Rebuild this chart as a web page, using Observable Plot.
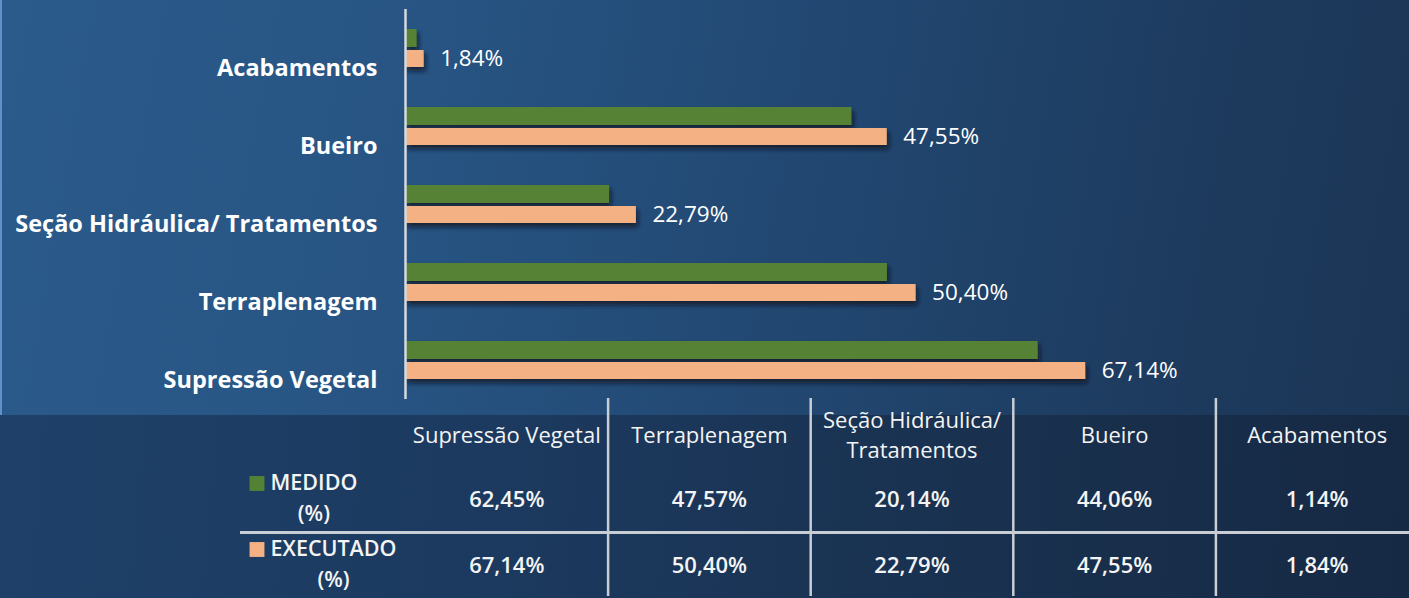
<!DOCTYPE html>
<html><head><meta charset="utf-8">
<script src="https://cdn.jsdelivr.net/npm/d3@7"></script>
<script src="https://cdn.jsdelivr.net/npm/@observablehq/plot@0.6"></script>
<style>
html,body{margin:0;padding:0;width:1409px;height:598px;overflow:hidden;}
body{background:linear-gradient(95deg,#1f4169 0%,#1c3a60 35%,#19314f 70%,#162944 100%);font-family:"Open Sans",sans-serif;}
#wrap{position:relative;width:1409px;height:598px;}
#panel{position:absolute;left:0;top:0;width:1409px;height:415px;box-sizing:border-box;border-left:2px solid #5f92c9;
  background:linear-gradient(100deg,#2b5b8b 0%,#275483 30%,#21466f 60%,#1d3a5d 85%,#1b3555 100%);}
#chart{position:absolute;left:0;top:0;}
#table{position:absolute;left:0;top:400px;}
</style></head>
<body><div id="wrap"><div id="panel"></div><div id="chart"></div><div id="table"></div></div>
<script>
const categories = ["Supressão Vegetal","Terraplenagem","Seção Hidráulica/ Tratamentos","Bueiro","Acabamentos"];
const tableHeaders = ["Supressão Vegetal","Terraplenagem","Seção Hidráulica/\nTratamentos","Bueiro","Acabamentos"];
const medido = [62.45,47.57,20.14,44.06,1.14];
const executado = [67.14,50.40,22.79,47.55,1.84];
const seriesNames = ["MEDIDO","EXECUTADO"];
const seriesColors = ["#548235","#f4b183"];

const FONT = "'Open Sans', sans-serif";
const fmt = v => v.toFixed(2).replace(".", ",") + "%";
const rows = categories.map((c, i) => ({cat: c, medido: medido[i], executado: executado[i]}));

const chart = Plot.plot({
  width: 1409, height: 400,
  marginLeft: 405, marginRight: 0, marginTop: 9, marginBottom: 1,
  style: {background: "transparent", fontFamily: FONT, color: "#ffffff", overflow: "visible"},
  x: {domain: [0, 99.1], axis: null},
  y: {domain: categories.slice().reverse(), padding: 0},
  marks: [
    Plot.barX(rows, {x: "medido", y: "cat", fill: seriesColors[0], insetTop: 20, insetBottom: 40}),
    Plot.barX(rows, {x: "executado", y: "cat", fill: seriesColors[1], insetTop: 41, insetBottom: 20}),
    Plot.ruleX([0], {stroke: "#d6dae0", strokeWidth: 2.5}),
    Plot.axisY({tickSize: 0, tickPadding: 28, dy: 20, fontSize: 23.5, fontWeight: "bold", label: null}),
    Plot.text(rows, {x: "executado", y: "cat", text: d => fmt(d.executado), dx: 16, dy: 10,
      textAnchor: "start", fontSize: 22.5, fill: "#ffffff"})
  ]
});
// drop shadow for bars
const svg = d3.select(chart);
const defs = svg.insert("defs", ":first-child");
defs.append("filter").attr("id", "barShadow").attr("x", "-5%").attr("y", "-50%").attr("width", "115%").attr("height", "250%")
  .append("feDropShadow").attr("dx", 2).attr("dy", 4).attr("stdDeviation", 2.5)
  .attr("flood-color", "#08121f").attr("flood-opacity", 0.75);
svg.selectAll('g[aria-label="bar"]').attr("filter", "url(#barShadow)");
document.getElementById("chart").append(chart);

// data table below the chart
const legendSize = 21.5;
const ctx = document.createElement("canvas").getContext("2d");
ctx.font = `600 ${legendSize}px 'Open Sans'`;
const cells = [];
const headerCells = [];
categories.forEach((c, i) => {
  headerCells.push({col: i + 0.5, row: 0.5, text: tableHeaders[i]});
  cells.push({col: i + 0.5, row: 1.5, text: fmt(medido[i])});
  cells.push({col: i + 0.5, row: 2.5, text: fmt(executado[i])});
});
const legendRows = seriesNames.map((s, i) => ({row: i + 1.5, name: s, color: seriesColors[i], w: ctx.measureText(s).width}));
const gridStroke = "#c9cdd4";
const legendMarks = legendRows.flatMap(d => [
  Plot.dot([d], {y: "row", frameAnchor: "left", dx: 16.5, dy: -16, symbol: "square", r: 8.4, fill: d.color}),
  Plot.text([d], {y: "row", frameAnchor: "left", text: "name", dx: 30, dy: -16, textAnchor: "start",
    fontSize: legendSize, fontWeight: 600, fill: "#f4f4f4"}),
  Plot.text([d], {y: "row", frameAnchor: "left", text: () => "(%)", dx: 30 + d.w / 2, dy: 15, textAnchor: "middle",
    fontSize: legendSize, fontWeight: 600, fill: "#f4f4f4"})
]);
const table = Plot.plot({
  width: 1409, height: 198,
  marginLeft: 240, marginRight: 0, marginTop: 0, marginBottom: 0,
  style: {background: "transparent", fontFamily: FONT, color: "#ffffff", overflow: "visible"},
  x: {domain: [0, categories.length], range: [405, 1418], axis: null},
  y: {domain: [0, 3], range: [0, 198], axis: null},
  marks: [
    Plot.ruleX(d3.range(1, categories.length), {x: d => d, y1: 0, y2: 3, dy: -2, stroke: gridStroke, strokeWidth: 2.5}),
    Plot.ruleY([2], {stroke: gridStroke, strokeWidth: 3}),
    Plot.text(headerCells, {x: "col", y: "row", text: "text", fontSize: 22, lineHeight: 1.38, fill: "#f4f4f4"}),
    Plot.text(cells, {x: "col", y: "row", text: "text", fontSize: 22, fontWeight: 600, fill: "#f4f4f4"}),
    ...legendMarks
  ]
});
document.getElementById("table").append(table);
</script>
</body></html>
